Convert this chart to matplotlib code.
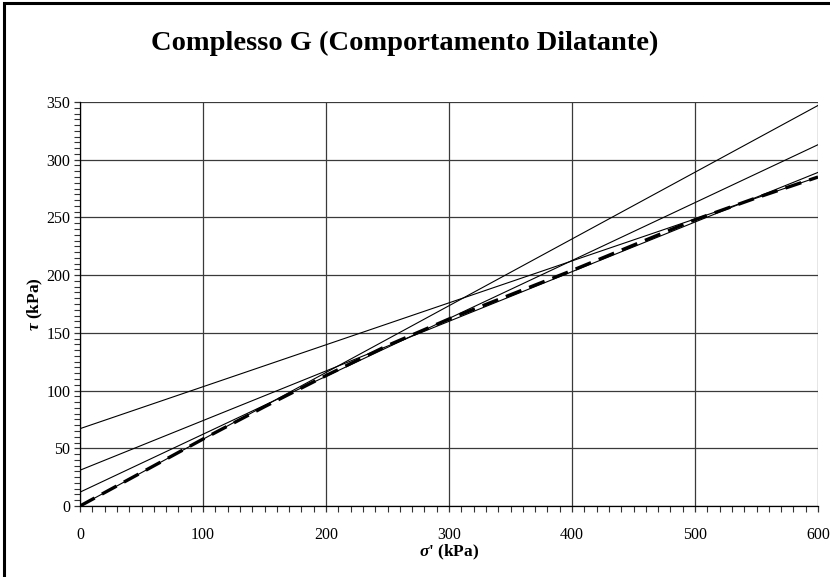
import matplotlib
matplotlib.use("Agg")
import matplotlib.pyplot as plt
from matplotlib.ticker import MultipleLocator
from matplotlib.patches import Rectangle

plt.rcParams['font.family'] = ['Liberation Serif', 'DejaVu Serif']
plt.rcParams['mathtext.fontset'] = 'custom'
plt.rcParams['mathtext.it'] = 'Liberation Serif:italic:bold'
plt.rcParams['mathtext.rm'] = 'Liberation Serif:bold'

# Data
sigma_curve = [0, 50, 100, 150, 200, 250, 300, 350, 400, 450, 500, 550, 600]
tau_curve = [0, 29, 58, 86, 113, 139, 162, 183, 204, 226, 248, 267, 285]

line_sigma = [0, 600]
line_tau_start = [0, 12, 31, 67]
line_tau_end = [347, 313, 289, 285]

title = "Complesso G (Comportamento Dilatante)"
xlabel = r"$\sigma$' (kPa)"
ylabel = r"$\tau$ (kPa)"

fig = plt.figure(figsize=(8.30, 5.77), dpi=100)
ax = fig.add_axes([80/830, 71/577, 738/830, 404/577])

for t0, t1 in zip(line_tau_start, line_tau_end):
    ax.plot(line_sigma, [t0, t1], color='black', lw=0.8, zorder=3)

ax.plot(sigma_curve, tau_curve, color='black', lw=2.4, dashes=(5, 2.5), zorder=4)

ax.set_xlim(0, 600)
ax.set_ylim(0, 350)
ax.xaxis.set_major_locator(MultipleLocator(100))
ax.xaxis.set_minor_locator(MultipleLocator(10))
ax.yaxis.set_major_locator(MultipleLocator(50))
ax.yaxis.set_minor_locator(MultipleLocator(5))
ax.grid(True, which='major', color='#3a3a3a', lw=0.9, zorder=1)
ax.set_axisbelow(True)

for s in ['top', 'right']:
    ax.spines[s].set_visible(False)
ax.spines['left'].set_linewidth(0.9)
ax.spines['bottom'].set_linewidth(0.9)

ax.tick_params(axis='both', which='major', direction='out', length=4, width=0.9, labelsize=11.5, color='#333333')
ax.tick_params(axis='both', which='minor', direction='out', length=4, width=0.8, color='#333333')
ax.tick_params(axis='x', which='major', pad=11)
ax.tick_params(axis='y', which='major', pad=3)

ax.set_xlabel(xlabel, fontsize=12.5, fontweight='bold', labelpad=0)
ax.set_ylabel(ylabel, fontsize=12.5, fontweight='bold', labelpad=1)

fig.text(405/830, 1 - 43/577, title, ha='center', va='center', fontsize=20.5, fontweight='bold')

fig.patches.append(Rectangle((4/830, -0.05), 1.2, 1.05 - 3/577, transform=fig.transFigure,
                             fill=False, edgecolor='black', lw=2.2, clip_on=False))

fig.savefig("out.png", dpi=100)
